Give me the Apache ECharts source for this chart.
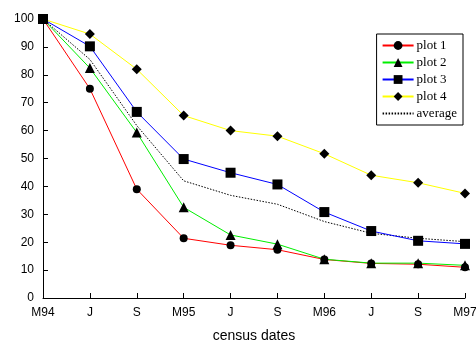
<!DOCTYPE html>
<html>
<head>
<meta charset="utf-8">
<script src="https://cdn.jsdelivr.net/npm/echarts@6/dist/echarts.min.js"></script>
<style>html,body{margin:0;padding:0;background:#fff}#c{width:476px;height:344px}</style>
</head>
<body>
<div id="c"></div>
<script>
var categories = ["M94", "J", "S", "M95", "J", "S", "M96", "J", "S", "M97"];
var plot1 = [100, 75, 39, 21.4, 18.9, 17.3, 13.8, 12.4, 12.1, 11];
var plot2 = [100, 82.4, 59.3, 32.5, 22.6, 19.3, 13.9, 12.5, 12.5, 11.7];
var plot3 = [100, 90.2, 66.7, 49.8, 44.9, 40.7, 30.8, 24, 20.5, 19.4];
var plot4 = [100, 94.6, 82, 65.4, 60, 58, 51.7, 44, 41.3, 37.5];
var average = [100, 85.5, 61.8, 42, 36.8, 33.6, 27.4, 23.2, 21.4, 20.2];
var yTicks = [0, 10, 20, 30, 40, 50, 60, 70, 80, 90, 100];

var chart = echarts.init(document.getElementById('c'), null, {renderer: 'canvas'});
function mk(name, data, color, symbol, size) {
  return {
    name: name, type: 'line', data: data,
    symbol: symbol, symbolSize: size, showSymbol: true,
    lineStyle: {color: color, width: 1},
    itemStyle: {color: '#000', borderWidth: 0},
    animation: false, z: 2
  };
}
chart.setOption({
  animation: false,
  backgroundColor: '#fff',
  grid: {left: 43, right: 11, top: 19, bottom: 46, containLabel: false, outerBoundsMode: 'none'},
  legend: {
    orient: 'vertical', right: 13, top: 34,
    data: ['plot 1', 'plot 2', 'plot 3', 'plot 4',
      {name: 'average', itemStyle: {opacity: 0, color: 'rgba(0,0,0,0)', borderWidth: 0}}],
    backgroundColor: '#fff', borderColor: '#000', borderWidth: 1,
    padding: [5, 6, 5, 5], itemGap: 4, itemWidth: 31, itemHeight: 11,
    textStyle: {fontFamily: 'Liberation Serif', fontSize: 13, color: '#000', padding: [0, 0, 0, -2]}
  },
  xAxis: {
    type: 'category', data: categories, boundaryGap: false,
    name: 'census dates', nameLocation: 'middle', nameGap: 31,
    nameTextStyle: {fontFamily: 'Liberation Sans', fontSize: 14, color: '#000'},
    axisLine: {lineStyle: {color: '#000', width: 1}},
    axisTick: {show: true, inside: true, length: 5, lineStyle: {color: '#000'}},
    axisLabel: {fontFamily: 'Liberation Sans', fontSize: 12, color: '#000', margin: 9, interval: 0},
    splitLine: {show: false}
  },
  yAxis: {
    type: 'value', min: yTicks[0], max: yTicks[yTicks.length - 1], interval: 10,
    axisLine: {show: true, lineStyle: {color: '#000', width: 1}},
    axisTick: {show: true, inside: true, length: 5, lineStyle: {color: '#000'}},
    axisLabel: {fontFamily: 'Liberation Sans', fontSize: 12, color: '#000', margin: 9},
    splitLine: {show: false}
  },
  series: [
    mk('plot 1', plot1, '#ff0000', 'circle', 8),
    mk('plot 2', plot2, '#00ee00', 'triangle', 10),
    mk('plot 3', plot3, '#0000ff', 'rect', 10),
    mk('plot 4', plot4, '#ffff00', 'diamond', 10),
    {
      name: 'average', type: 'line', data: average, symbol: 'none',
      lineStyle: {color: '#000', width: 1, type: [1.5, 1.5]},
      itemStyle: {color: '#000'}, z: 1, animation: false
    }
  ]
});
</script>
</body>
</html>
